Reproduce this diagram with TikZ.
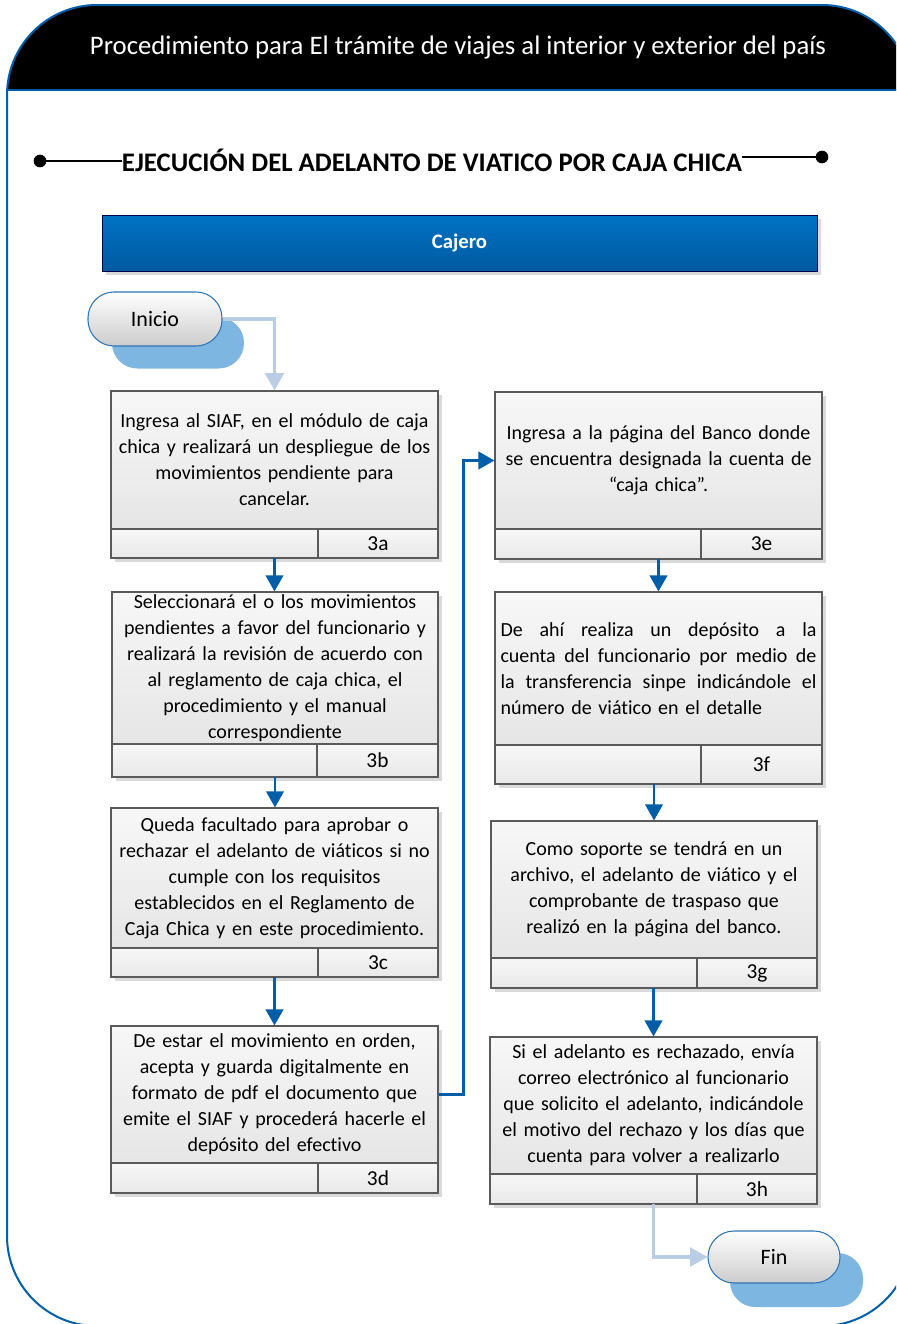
\documentclass[tikz,border=0pt]{standalone}
\usepackage{fontspec}
\setmainfont{Carlito}[Ligatures=NoCommon]
\usetikzlibrary{arrows.meta,calc,shadings}
\definecolor{frameblue}{RGB}{0,94,170}
\definecolor{arrowblue}{RGB}{0,94,168}
\definecolor{lightarrow}{RGB}{185,205,229}
\definecolor{pillshadow}{RGB}{125,182,224}
\definecolor{pillborder}{RGB}{46,117,182}
\definecolor{boxshadowc}{RGB}{218,218,218}
\definecolor{boxborder}{RGB}{90,90,90}
\definecolor{bantop}{RGB}{0,114,196}
\definecolor{banbot}{RGB}{0,90,160}
\newcommand{\procbox}[9]{%
  \fill[boxshadowc] (#2+4,#5+4) rectangle (#3+4,#7+4);
  \node[mainbox, minimum width=0.75pt*(#3-#2), minimum height=0.75pt*(#6-#5), text width=0.75pt*(#3-#2-4)] (#1) at ({(#2+#3)/2},{(#5+#6)/2}) {#8};
  \node[cellbox, minimum width=0.75pt*(#4-#2), minimum height=0.75pt*(#7-#6)] (#1l) at ({(#2+#4)/2},{(#6+#7)/2}) {};
  \node[cellbox, minimum width=0.75pt*(#3-#4), minimum height=0.75pt*(#7-#6)] (#1r) at ({(#4+#3)/2},{(#6+#7)/2}) {#9};
  \coordinate (#1o) at ({(#2+#3)/2},#7);
}
\newcommand{\jline}[1]{\makebox[237pt][l]{#1}}
\begin{document}
\begin{tikzpicture}[x=0.75pt,y=-0.75pt,
  mainbox/.style={draw=boxborder, line width=0.8pt, top color=white!97!black, bottom color=white!90!black, inner sep=0pt, align=center, font=\fontsize{15pt}{19.5pt}\selectfont},
  cellbox/.style={draw=boxborder, line width=0.8pt, top color=white!97!black, bottom color=white!91!black, inner sep=0pt, font=\fontsize{16pt}{18pt}\selectfont},
  flow/.style={draw=arrowblue, line width=2pt, -{Triangle[width=13pt,length=12pt]}},
  lightflow/.style={draw=lightarrow, line width=2.4pt, -{Triangle[width=14pt,length=13pt]}},
  pill/.style={draw=pillborder, line width=0.8pt, rounded corners=19.5pt, top color=white, bottom color=white!80!black, inner sep=0pt, font=\fontsize{16.5pt}{18pt}\selectfont},
  pillsh/.style={fill=pillshadow, rounded corners=19pt, inner sep=0pt},
  dotnode/.style={circle, fill=black, inner sep=0pt, minimum size=9.5pt}
]
\path[use as bounding box] (0,0) rectangle (896,1324);
\clip (0,0) rectangle (896,1324);
% header
\begin{scope}
  \clip[rounded corners=67.5pt] (7,5) rectangle (912,1326);
  \fill[black] (0,0) rectangle (912,90);
\end{scope}
\draw[frameblue, line width=1.5pt, rounded corners=67.5pt] (7,5) rectangle (912,1326);
\draw[frameblue, line width=1.5pt] (7,90) -- (900,90);
\node[text=white, inner sep=0pt] (title) at (458,48) {\resizebox{552pt}{!}{Procedimiento para El trámite de viajes al interior y exterior del país}};
% section title
\node[inner sep=0pt, font=\bfseries] (sec) at (432,160) {\resizebox{465pt}{!}{EJECUCIÓN DEL ADELANTO DE VIATICO POR CAJA CHICA}};
\node[dotnode] (dl) at (40,161) {};
\node[dotnode] (dr) at (822,157) {};
\draw[line width=1.8pt] (dl.center) -- (dl.center -| sec.west);
\draw[line width=1.8pt] (sec.east |- dr.center) -- (dr.center);
% banner
\fill[boxshadowc] (106,219) rectangle (821,275);
\node[draw=black!70!blue, line width=0.6pt, top color=bantop, bottom color=banbot, minimum width=0.75pt*715, minimum height=0.75pt*56, inner sep=0pt, text=white, font=\bfseries\fontsize{15.5pt}{17pt}\selectfont] (cajero) at (459.5,243) {Cajero};
% Inicio
\node[pillsh, minimum width=0.75pt*132, minimum height=0.75pt*51] (inish) at (178,343) {};
\node[pill, minimum width=0.75pt*134, minimum height=0.75pt*54] (inicio) at (155,319) {Inicio};
% boxes
\procbox{b3a}{111}{438}{318}{391}{529}{558}{Ingresa al SIAF, en el módulo de caja\\chica y realizará un despliegue de los\\movimientos pendiente para\\cancelar.}{3a}
\procbox{b3b}{112}{438}{317}{592}{744}{777}{Seleccionará el o los movimientos\\pendientes a favor del funcionario y\\realizará la revisión de acuerdo con\\al reglamento de caja chica, el\\procedimiento y el manual\\correspondiente}{3b}
\procbox{b3c}{111}{438}{318}{808}{948}{977}{Queda facultado para aprobar o\\rechazar el adelanto de viáticos si no\\cumple con los requisitos\\establecidos en el Reglamento de\\Caja Chica y en este procedimiento.}{3c}
\procbox{b3d}{111}{438}{318}{1026}{1163}{1193}{De estar el movimiento en orden,\\acepta y guarda digitalmente en\\formato de pdf el documento que\\emite el SIAF y procederá hacerle el\\depósito del efectivo}{3d}
\procbox{b3e}{495}{822}{701}{392}{529}{559}{Ingresa a la página del Banco donde\\se encuentra designada la cuenta de\\“caja chica”.}{3e}
\procbox{b3f}{495}{822}{701}{592}{745}{784}{\jline{De\hfill ahí\hfill realiza\hfill un\hfill depósito\hfill a\hfill la}\\\jline{cuenta\hfill del\hfill funcionario\hfill por\hfill medio\hfill de}\\\jline{la\hfill transferencia\hfill sinpe\hfill indicándole\hfill el}\\\jline{número de viático en el detalle}}{3f}
\procbox{b3g}{491}{817}{697}{821}{958}{988}{Como soporte se tendrá en un\\archivo, el adelanto de viático y el\\comprobante de traspaso que\\realizó en la página del banco.}{3g}
\procbox{b3h}{490}{817}{697}{1037}{1174}{1204}{Si el adelanto es rechazado, envía\\correo electrónico al funcionario\\que solicito el adelanto, indicándole\\el motivo del rechazo y los días que\\cuenta para volver a realizarlo}{3h}
% Fin
\node[pillsh, minimum width=0.75pt*133, minimum height=0.75pt*54] (finsh) at (796.5,1280) {};
\node[pill, minimum width=0.75pt*132, minimum height=0.75pt*52] (fin) at (774,1257) {Fin};
% connectors
\draw[lightflow] (inicio.east) -| (b3a.north);
\draw[flow] (b3ao) -- (b3b.north -| b3ao);
\draw[flow] (b3bo) -- (b3c.north -| b3bo);
\draw[flow] (b3co) -- (b3d.north -| b3co);
\draw[flow] (b3d.east) -- ++(25,0) |- (b3e.west);
\draw[flow] (b3eo) -- (b3f.north -| b3eo);
\draw[flow] (b3g.north |- b3fo) -- (b3g.north);
\draw[flow] (b3h.north |- b3go) -- (b3h.north);
\draw[lightflow] (b3ho) |- (fin.west);
\end{tikzpicture}
\end{document}
